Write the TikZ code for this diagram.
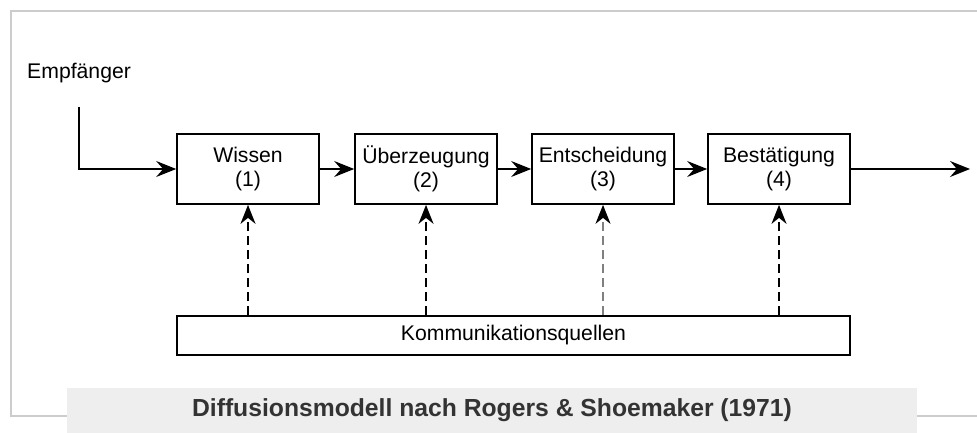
\documentclass[tikz,border=0pt]{standalone}
\usepackage{fontspec}
\setmainfont{Liberation Sans}
\usetikzlibrary{arrows.meta}
\definecolor{framegray}{HTML}{CCCCCC}
\definecolor{capfill}{HTML}{EEEEEE}
\definecolor{captext}{HTML}{333333}
\definecolor{lightdash}{HTML}{808080}
\tikzset{
  stagebox/.style={draw, line width=1.7pt, minimum width=142pt, minimum height=70pt,
    inner sep=0pt, align=center, font=\fontsize{21.2}{23.5}\selectfont},
  sourcebox/.style={draw, line width=1.7pt, minimum width=673pt, minimum height=39pt,
    inner sep=0pt, font=\fontsize{21.2}{25}\selectfont},
  flow/.style={line width=1.7pt, -{Stealth[length=20pt, width=16pt, inset=7pt]}},
  influence/.style={line width=1.7pt, dash pattern=on 9pt off 5pt,
    -{Stealth[length=19pt, width=15pt, inset=6pt, color=black]}},
  frameline/.style={draw=framegray, line width=1.5pt}
}
\begin{document}
\begin{tikzpicture}[x=1pt,y=-1pt]
\useasboundingbox (0,0) rectangle (977,433);

% outer frame
\draw[frameline] (67,416) -- (11,416) -- (11,11) -- (977,11);
\draw[frameline] (917,416) -- (977,416);

% caption bar
\node[fill=capfill, minimum width=850pt, minimum height=45pt, inner sep=0pt,
      font=\fontsize{24.7}{28}\selectfont\bfseries, text=captext]
  (caption) at (492,410.5) {Diffusionsmodell nach Rogers \& Shoemaker (1971)};

% stages
\node[stagebox] (wissen) at (248,169) {Wissen\\(1)};
\node[stagebox] (ueber)  at (426,169) {Überzeugung\\(2)};
\node[stagebox] (entsch) at (603,169) {Entscheidung\\(3)};
\node[stagebox] (best)   at (779,169) {Bestätigung\\(4)};

% sources
\node[sourcebox] (komm) at (513.5,335.5) {Kommunikationsquellen};

% receiver
\node[anchor=west, inner sep=0pt, font=\fontsize{21.2}{25}\selectfont]
  (empf) at (27,73) {Empfänger};
\coordinate (in0) at (79,107);
\coordinate (out0) at (970,169);

% main flow
\draw[flow] (in0) |- (wissen.west);
\draw[flow] (wissen.east) -- (ueber.west);
\draw[flow] (ueber.east) -- (entsch.west);
\draw[flow] (entsch.east) -- (best.west);
\draw[flow] (best.east) -- (out0);

% influence of communication sources
\draw[influence] (komm.north -| wissen.south) -- (wissen.south);
\draw[influence] (komm.north -| ueber.south) -- (ueber.south);
\draw[influence, draw=lightdash, line width=1.3pt] (komm.north -| entsch.south) -- (entsch.south);
\draw[influence] (komm.north -| best.south) -- (best.south);
\end{tikzpicture}
\end{document}
